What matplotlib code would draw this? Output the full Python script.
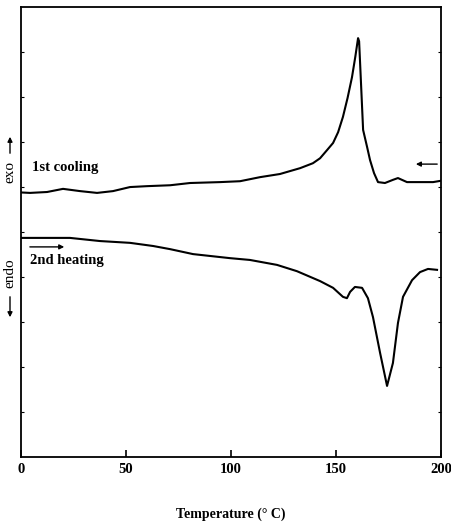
import numpy as np
import matplotlib
matplotlib.use("Agg")
import matplotlib.pyplot as plt

# DSC traces (signal in arbitrary units)
cooling_temp = [0.0, 4.3, 12.4, 20.0, 28.1, 36.2, 43.8, 51.9, 60.0, 71.0, 80.5, 94.8,
                104.3, 113.8, 123.3, 132.9, 139.0, 142.4, 145.7, 148.6, 151.0, 153.3,
                155.5, 157.6, 159.2, 160.5, 161.0, 162.9, 164.8, 166.2, 168.1, 170.0,
                173.3, 177.1, 179.5, 183.8, 188.6, 196.2, 200.0]
cooling_signal = [58.8, 58.7, 58.9, 59.6, 59.1, 58.7, 59.1, 60.0, 60.2, 60.4, 60.9, 61.1,
                  61.3, 62.2, 62.9, 64.2, 65.3, 66.4, 68.2, 69.8, 72.2, 75.6,
                  79.8, 84.4, 89.0, 93.1, 92.4, 72.7, 68.9, 66.0, 63.1, 61.1,
                  60.9, 61.6, 62.0, 61.1, 61.1, 61.1, 61.4]

heating_temp = [0.0, 9.0, 23.3, 37.6, 51.9, 62.9, 71.0, 81.9, 99.5, 109.0, 121.9, 131.4,
                142.4, 148.6, 153.3, 155.2, 156.7, 159.0, 162.4, 165.2, 167.6, 171.0,
                174.3, 177.1, 179.5, 181.9, 186.2, 190.0, 193.8, 198.1]
heating_signal = [48.7, 48.7, 48.7, 48.0, 47.6, 46.9, 46.2, 45.1, 44.2, 43.8, 42.7, 41.3,
                  39.1, 37.6, 35.6, 35.3, 36.7, 37.8, 37.6, 35.3, 31.1, 23.1,
                  15.8, 20.9, 29.8, 35.6, 39.3, 41.1, 41.8, 41.6]

xticks = [0, 50, 100, 150, 200]

serif = ["Liberation Serif", "DejaVu Serif"]

fig = plt.figure(figsize=(4.52, 5.25), dpi=100)
ax = fig.add_axes([0.0465, 0.1295, 0.9292, 0.857])

ax.plot(cooling_temp, cooling_signal, color="black", lw=1.5)
ax.plot(heating_temp, heating_signal, color="black", lw=1.5)

ax.set_xlim(0, 200)
ax.set_ylim(0, 100)
ax.set_xticks(xticks)
ax.set_xticklabels([str(t) for t in xticks], fontfamily=serif,
                   fontweight="bold", fontsize=10.5)
ax.set_yticks(np.arange(10, 100, 10))
ax.set_yticklabels([])
ax.tick_params(axis="x", direction="in", length=5, width=1.2, pad=4)
ax.tick_params(axis="y", direction="in", length=2, width=0.8,
               left=True, right=True)
for s in ax.spines.values():
    s.set_linewidth(1.3)

ax.set_xlabel("Temperature (° C)", fontfamily=serif, fontweight="bold",
              fontsize=10, labelpad=23)

# curve labels and scan-direction arrows
ax.text(5.2, 64.4, "1st cooling", fontfamily=serif, fontweight="bold",
        fontsize=10.5, va="center", ha="left")
ax.text(4.3, 43.6, "2nd heating", fontfamily=serif, fontweight="bold",
        fontsize=10.5, va="center", ha="left")
ax.annotate("", xy=(21.9, 46.7), xytext=(2.9, 46.7),
            arrowprops=dict(arrowstyle="-|>", color="black", lw=1.0,
                            mutation_scale=7))
ax.annotate("", xy=(186.7, 65.1), xytext=(199.5, 65.1),
            arrowprops=dict(arrowstyle="-|>", color="black", lw=1.0,
                            mutation_scale=7))

# exo / endo marks outside the left spine
fig.text(10 / 452, 1 - 172 / 525, "exo", rotation=90, ha="center",
         va="center", fontfamily=serif, fontsize=11)
fig.text(10 / 452, 1 - 273 / 525, "endo", rotation=90, ha="center",
         va="center", fontfamily=serif, fontsize=11)
fig.add_artist(matplotlib.patches.FancyArrowPatch(
    (10 / 452, 1 - 156 / 525), (10 / 452, 1 - 134 / 525),
    transform=fig.transFigure, arrowstyle="-|>", mutation_scale=7,
    color="black", lw=1.0))
fig.add_artist(matplotlib.patches.FancyArrowPatch(
    (10 / 452, 1 - 294 / 525), (10 / 452, 1 - 320 / 525),
    transform=fig.transFigure, arrowstyle="-|>", mutation_scale=7,
    color="black", lw=1.0))

fig.savefig("out.png", dpi=100)
